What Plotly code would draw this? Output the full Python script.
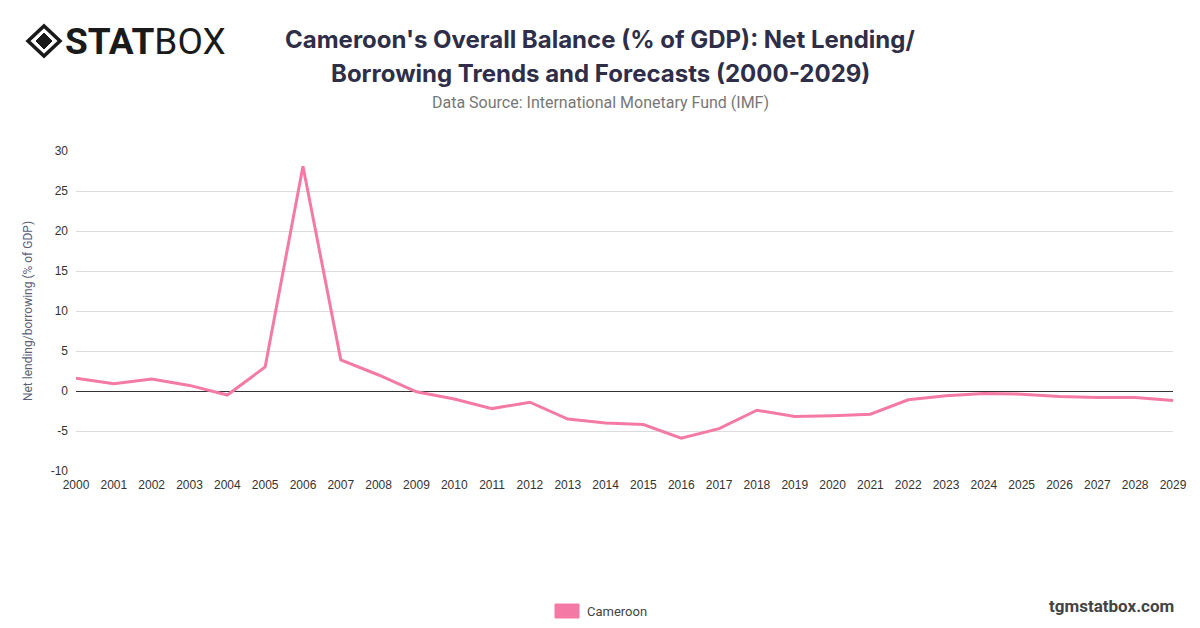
import plotly.graph_objects as go

years = list(range(2000, 2030))
balance = [1.6, 0.9, 1.5, 0.7, -0.5, 3.0, 28.1, 3.9, 2.0, -0.1,
           -1.0, -2.2, -1.4, -3.5, -4.0, -4.2, -5.9, -4.7, -2.4, -3.2,
           -3.1, -2.9, -1.1, -0.6, -0.3, -0.4, -0.7, -0.8, -0.8, -1.2]
y_ticks = [-10, -5, 0, 5, 10, 15, 20, 25, 30]

pink = '#f47aa5'

# page has an 8px body margin, so the figure is drawn 8px smaller
W, H = 1192, 620
L, T, R, B = 68, 143, 27, 157
pw, ph = W - L - R, H - T - B


# screen pixel (as seen in the 1200x628 window) -> paper coords
def px(x):
    return (x - 8 - L) / pw


def py(y):
    return (H - B - (y - 8)) / ph


fig = go.Figure()
fig.add_trace(go.Scatter(x=years, y=balance, mode='lines', name='Cameroon',
                         line=dict(color=pink, width=3), showlegend=False))

# logo icon (diamond)
fig.add_shape(type='path', xref='paper', yref='paper',
              path=f'M {px(28)} {py(41)} L {px(44)} {py(26)} L {px(60)} {py(41)} L {px(44)} {py(56)} Z',
              line=dict(color='#1a1a1a', width=3.5), fillcolor='rgba(0,0,0,0)')
fig.add_shape(type='path', xref='paper', yref='paper',
              path=f'M {px(36)} {py(41)} L {px(44)} {py(33)} L {px(52)} {py(41)} L {px(44)} {py(49)} Z',
              line=dict(color='#1a1a1a', width=1), fillcolor='#1a1a1a')
fig.add_annotation(x=px(63), y=py(41), xref='paper', yref='paper', xanchor='left', yanchor='middle',
                   text='<b>STAT</b>BOX', showarrow=False,
                   font=dict(family='Roboto', size=37, color='#1a1a1a'))

# title and subtitle
fig.add_annotation(x=px(600), y=py(40), xref='paper', yref='paper', xanchor='center', yanchor='middle',
                   text="<b>Cameroon's Overall Balance (% of GDP): Net Lending/</b>", showarrow=False,
                   font=dict(family='Inter', size=24, color='#2e2e48'))
fig.add_annotation(x=px(600), y=py(73), xref='paper', yref='paper', xanchor='center', yanchor='middle',
                   text='<b>Borrowing Trends and Forecasts (2000-2029)</b>', showarrow=False,
                   font=dict(family='Inter', size=24, color='#2e2e48'))
fig.add_annotation(x=px(600), y=py(102), xref='paper', yref='paper', xanchor='center', yanchor='middle',
                   text='Data Source: International Monetary Fund (IMF)', showarrow=False,
                   font=dict(family='Roboto', size=16, color='#777'))

# legend (drawn)
fig.add_shape(type='rect', xref='paper', yref='paper',
              x0=px(555), x1=px(579), y0=py(618), y1=py(604),
              line=dict(color=pink, width=1), fillcolor=pink)
fig.add_annotation(x=px(585), y=py(611), xref='paper', yref='paper', xanchor='left', yanchor='middle',
                   text='Cameroon', showarrow=False,
                   font=dict(family='Roboto', size=13, color='#444'))
fig.add_annotation(x=px(1176), y=py(606), xref='paper', yref='paper', xanchor='right', yanchor='middle',
                   text='<b>tgmstatbox.com</b>', showarrow=False,
                   font=dict(family='Roboto', size=17, color='#444'))

fig.update_layout(
    width=W, height=H,
    paper_bgcolor='white', plot_bgcolor='white',
    margin=dict(l=L, r=R, t=T, b=B),
    xaxis=dict(range=[2000, 2029], tickmode='array', tickvals=years,
               ticktext=[str(y) for y in years], showgrid=False, zeroline=False,
               showline=False, ticks='', ticklabelstandoff=5,
               tickfont=dict(family='Liberation Sans', size=12, color='#333')),
    yaxis=dict(range=[-10, 30], tickmode='array', tickvals=y_ticks,
               ticktext=[str(v) for v in y_ticks], showgrid=True, gridcolor='#dcdcdc',
               zeroline=True, zerolinecolor='#333', zerolinewidth=1,
               ticks='', ticklabelstandoff=7,
               tickfont=dict(family='Liberation Sans', size=12, color='#333'),
               title=dict(text='Net lending/borrowing (% of GDP)', standoff=15,
                          font=dict(family='Roboto', size=12, color='#5b5f78'))),
)

fig.write_html('out.html')
